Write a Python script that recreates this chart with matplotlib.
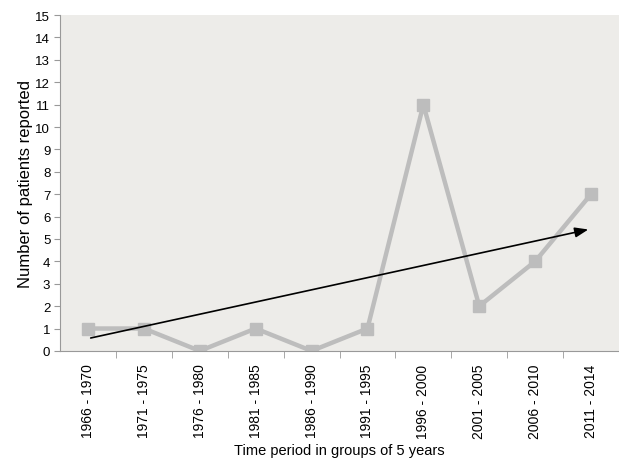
import numpy as np
import matplotlib.pyplot as plt

plt.rcParams["font.family"] = ["Liberation Sans", "DejaVu Sans"]

periods = ["1966 - 1970", "1971 - 1975", "1976 - 1980", "1981 - 1985", "1986 - 1990",
           "1991 - 1995", "1996 - 2000", "2001 - 2005", "2006 - 2010", "2011 - 2014"]
patients = [1, 1, 0, 1, 0, 1, 11, 2, 4, 7]
trend_start = 0.55  # trend arrow, value at first period
trend_end = 5.45    # value at last period

fig = plt.figure(figsize=(6.19, 4.6), dpi=100)
fig.patch.set_facecolor("white")
ax = fig.add_axes([0.097, 0.235, 0.903, 0.73])
ax.set_facecolor("#edece9")

x = np.arange(len(periods))
ax.plot(x, patients, color="#bdbdbd", lw=3.2, marker="s", ms=9, mfc="#bdbdbd", mec="#bdbdbd", zorder=2)
ax.annotate("", xy=(x[-1], trend_end), xytext=(x[0], trend_start),
            arrowprops=dict(arrowstyle="-|>,head_length=0.8,head_width=0.3", color="black", lw=1.2), zorder=3)

ax.set_xlim(-0.5, len(periods) - 0.5)
ax.set_ylim(0, 15)
ax.set_yticks(range(16))
ax.set_xticks(x)
ax.set_xticklabels(periods, rotation=90, fontsize=10)
ax.set_xticks(np.arange(0.5, len(periods) - 0.5), minor=True)
ax.tick_params(axis="x", which="major", length=0, pad=9)
ax.tick_params(axis="x", which="minor", length=5, color="#999999")
ax.tick_params(axis="y", length=4, color="#999999", labelsize=9.5, pad=3)

for s in ["top", "right"]:
    ax.spines[s].set_visible(False)
for s in ["left", "bottom"]:
    ax.spines[s].set_color("#999999")

ax.set_ylabel("Number of patients reported", fontsize=12, labelpad=2)
ax.set_xlabel("Time period in groups of 5 years", fontsize=10.5, labelpad=4)

fig.savefig("out.png", dpi=100)
